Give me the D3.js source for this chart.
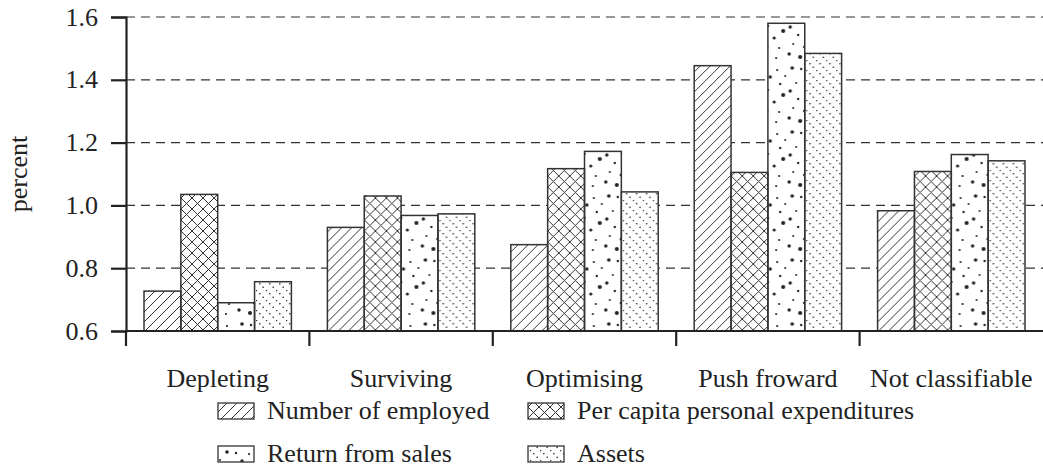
<!DOCTYPE html>
<html>
<head>
<meta charset="utf-8">
<script src="https://cdn.jsdelivr.net/npm/d3@7"></script>
</head>
<body style="margin:0">
<svg id="chart" width="1043" height="472"></svg>
<script>
// data
const categories = ["Depleting", "Surviving", "Optimising", "Push froward", "Not classifiable"];
const seriesNames = ["Number of employed", "Per capita personal expenditures", "Return from sales", "Assets"];
const employed   = [0.727, 0.930, 0.875, 1.445, 0.983];
const perCapita  = [1.035, 1.030, 1.117, 1.105, 1.108];
const returnSale = [0.690, 0.968, 1.172, 1.580, 1.162];
const assets     = [0.757, 0.973, 1.043, 1.484, 1.142];
const yTicks = [0.6, 0.8, 1.0, 1.2, 1.4, 1.6];

const seriesValues = [employed, perCapita, returnSale, assets];
const patternIds = ["p-hatch", "p-cross", "p-dots", "p-dotline"];
const FONT = "'Times New Roman'";

const svg = d3.select("#chart");
const margin = { top: 17, right: 0, bottom: 141, left: 126 };
const width = +svg.attr("width") - margin.left - margin.right;
const height = +svg.attr("height") - margin.top - margin.bottom;

// ---- patterns
const defs = svg.append("defs");
const ink = "#333";

let p = defs.append("pattern").attr("id", "p-hatch")
  .attr("patternUnits", "userSpaceOnUse").attr("width", 10).attr("height", 10);
p.append("path").attr("d", "M-1,11 L11,-1 M-6,6 L6,-6 M4,16 L16,4")
  .attr("stroke", ink).attr("stroke-width", 1);

p = defs.append("pattern").attr("id", "p-cross")
  .attr("patternUnits", "userSpaceOnUse").attr("width", 11).attr("height", 11);
p.append("path").attr("d", "M0,0 L11,11 M0,11 L11,0 M-1,1 L1,-1 M10,12 L12,10 M-1,10 L1,12 M10,-1 L12,1")
  .attr("stroke", ink).attr("stroke-width", 1);

// scattered dots of a few sizes
p = defs.append("pattern").attr("id", "p-dots")
  .attr("patternUnits", "userSpaceOnUse").attr("width", 37).attr("height", 64);
const dotTile = [[5,4,1.8],[14,5,1.2],[27,6,1.1],[20,13,1.7],[9,19,1],[30,20,1.2],[3,27,1.7],[18,26,1],
  [33,31,2],[11,35,1.2],[24,38,1.6],[6,44,1],[17,47,1.2],[29,48,1.1],[2,54,1.7],[13,57,2],[26,58,1.1],[35,12,1]];
p.selectAll("circle").data(dotTile).join("circle")
  .attr("cx", d => d[0]).attr("cy", d => d[1]).attr("r", d => d[2]).attr("fill", "#222");

p = defs.append("pattern").attr("id", "p-dotline")
  .attr("patternUnits", "userSpaceOnUse").attr("width", 10).attr("height", 10);
p.append("path").attr("d", "M0,0 L10,10")
  .attr("stroke", ink).attr("stroke-width", 1.4).attr("stroke-dasharray", "1.4,3.31");

// ---- scales (in page pixels)
const x0 = d3.scaleBand().domain(categories).range([margin.left, margin.left + width]).padding(0);
const x1 = d3.scaleBand().domain(seriesNames).range([18, x0.bandwidth() - 18]).padding(0);
const y = d3.scaleLinear().domain([0.6, 1.6]).range([margin.top + height, margin.top]);
const base = y(0.6);

// dashed grid
svg.append("g").selectAll("line").data(yTicks.slice(1)).join("line")
  .attr("x1", margin.left).attr("x2", margin.left + width)
  .attr("y1", d => y(d)).attr("y2", d => y(d))
  .attr("stroke", "#333").attr("stroke-width", 1.2).attr("stroke-dasharray", "9,6");

// bars, pattern tiles start at each group's left edge
const rows = categories.map((c, i) => ({ cat: c, vals: seriesNames.map((s, j) => ({ s: s, j: j, v: seriesValues[j][i] })) }));
const grp = svg.selectAll(".grp").data(rows).join("g")
  .attr("class", "grp")
  .attr("transform", d => "translate(" + x0(d.cat) + ",0)");
grp.selectAll("rect.bg").data(d => d.vals).join("rect")
  .attr("class", "bg")
  .attr("x", d => x1(d.s))
  .attr("y", d => y(d.v))
  .attr("width", x1.bandwidth())
  .attr("height", d => base - y(d.v))
  .attr("fill", "#fff");
grp.selectAll("rect.pat").data(d => d.vals).join("rect")
  .attr("class", "pat")
  .attr("x", d => x1(d.s))
  .attr("y", d => y(d.v))
  .attr("width", x1.bandwidth())
  .attr("height", d => base - y(d.v))
  .attr("fill", d => "url(#" + patternIds[d.j] + ")")
  .attr("stroke", "#333").attr("stroke-width", 1.5);

// y axis (lines from d3, labels added below)
const yAxis = svg.append("g").attr("transform", "translate(" + margin.left + ",0)")
  .call(d3.axisLeft(y).tickValues(yTicks).tickFormat("").tickSize(15));
yAxis.select(".domain").attr("stroke", "#222").attr("stroke-width", 2.2);
yAxis.selectAll(".tick line").attr("stroke", "#222").attr("stroke-width", 2.2);

// x axis: baseline and boundary ticks
svg.append("line").attr("x1", margin.left).attr("x2", margin.left + width)
  .attr("y1", base).attr("y2", base)
  .attr("stroke", "#222").attr("stroke-width", 2.2);
svg.selectAll(".bt").data(categories).join("line").attr("class", "bt")
  .attr("x1", d => x0(d)).attr("x2", d => x0(d)).attr("y1", base).attr("y2", base + 15)
  .attr("stroke", "#222").attr("stroke-width", 2.2);

// ---- texts
svg.selectAll(".ytl").data(yTicks).join("text").attr("class", "ytl")
  .attr("x", margin.left - 28)
  .attr("y", d => y(d) + 8.5)
  .attr("text-anchor", "end")
  .attr("font-size", 26)
  .attr("fill", "#222")
  .style("font-family", FONT)
  .text(d => d3.format(".1f")(d));

svg.selectAll(".lab").data(categories).join("text").attr("class", "lab")
  .attr("x", d => x0(d) + x0.bandwidth() / 2)
  .attr("y", base + 56)
  .attr("text-anchor", "middle")
  .attr("font-size", 26)
  .attr("fill", "#222")
  .style("font-family", FONT)
  .text(d => d);

svg.append("text")
  .attr("transform", "translate(27," + (margin.top + 157) + ") rotate(-90)")
  .attr("text-anchor", "middle")
  .attr("font-size", 26)
  .attr("fill", "#222")
  .style("font-family", FONT)
  .text("percent");

// legend
const legPos = [[218, 403], [528, 403], [218, 446], [528, 446]];
svg.selectAll(".sw").data(seriesNames).join("rect").attr("class", "sw")
  .attr("x", (d, i) => legPos[i][0]).attr("y", (d, i) => legPos[i][1])
  .attr("width", 36).attr("height", 16)
  .attr("fill", (d, i) => "url(#" + patternIds[i] + ")")
  .attr("stroke", "#333").attr("stroke-width", 1.3);
svg.selectAll(".lt").data(seriesNames).join("text").attr("class", "lt")
  .attr("x", (d, i) => legPos[i][0] + 49).attr("y", (d, i) => legPos[i][1] + 16)
  .attr("font-size", 26)
  .attr("fill", "#222")
  .style("font-family", FONT)
  .text(d => d);
</script>
</body>
</html>
